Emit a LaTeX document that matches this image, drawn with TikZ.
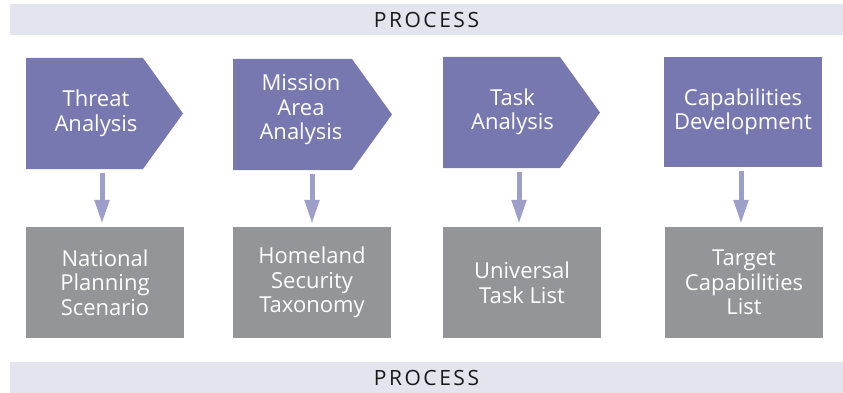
\documentclass[tikz,border=0pt]{standalone}
\usepackage{fontspec}
\setmainfont{Open Sans}
\usetikzlibrary{arrows.meta}

\definecolor{procpurple}{HTML}{7878B0}
\definecolor{procgray}{HTML}{939598}
\definecolor{procbar}{HTML}{E4E4EF}
\definecolor{proclink}{HTML}{9E9ECB}

\tikzset{
  procbar/.style={fill=procbar, inner sep=0pt, minimum width=833pt, minimum height=31pt,
    font=\fontsize{21}{24}\selectfont\addfontfeature{LetterSpace=12}, text=black!90},
  proctext/.style={align=center, text=white, inner sep=0pt,
    font=\fontsize{22}{24.5}\selectfont},
  outbox/.style={proctext, fill=procgray, minimum width=158pt, minimum height=111pt},
  capbox/.style={proctext, fill=procpurple, minimum width=158pt, minimum height=110pt},
  link/.style={draw=proclink, line width=5pt, shorten >=3pt,
    -{Triangle[width=14pt,length=24pt]}}
}

\begin{document}
\begin{tikzpicture}[x=1pt,y=-1pt]
  \useasboundingbox (0,0) rectangle (843,393);
  % bars
  \node (topbar) at (426.5,20) [procbar] {PROCESS};
  \node (botbar) at (426.5,377.5) [procbar] {PROCESS};
  % process steps
  \fill[procpurple] (26,58) -- (143,58) -- (183,113.5) -- (143,169) -- (26,169) -- cycle;
  \node (threat) at (96,113.5) [proctext] {Threat\\Analysis};
  \fill[procpurple] (233,59) -- (352,59) -- (392,114.5) -- (352,170) -- (233,170) -- cycle;
  \node (mission) at (301,110) [proctext] {Mission\\Area\\Analysis};
  \fill[procpurple] (443,57) -- (560,57) -- (600,112.5) -- (560,168) -- (443,168) -- cycle;
  \node (task) at (512.5,112) [proctext] {Task\\Analysis};
  \node (capdev) at (743,112) [capbox] {Capabilities\\Development};
  \coordinate (threatfoot) at (102,173);
  \coordinate (missionfoot) at (312,174);
  \coordinate (taskfoot) at (519,172);
  \coordinate (capfoot) at (741,171);
  % products
  \node (nps) at (105,282.5) [outbox] {National\\Planning\\Scenario};
  \node (hst) at (312,282.5) [outbox] {Homeland\\Security\\Taxonomy};
  \node (utl) at (522,282.5) [outbox] {Universal\\Task List};
  \node (tcl) at (744,282.5) [outbox] {Target\\Capabilities\\List};
  % links
  \draw[link] (threatfoot) -- (threatfoot |- nps.north);
  \draw[link] (missionfoot) -- (missionfoot |- hst.north);
  \draw[link] (taskfoot) -- (taskfoot |- utl.north);
  \draw[link] (capfoot) -- (capfoot |- tcl.north);
\end{tikzpicture}
\end{document}
